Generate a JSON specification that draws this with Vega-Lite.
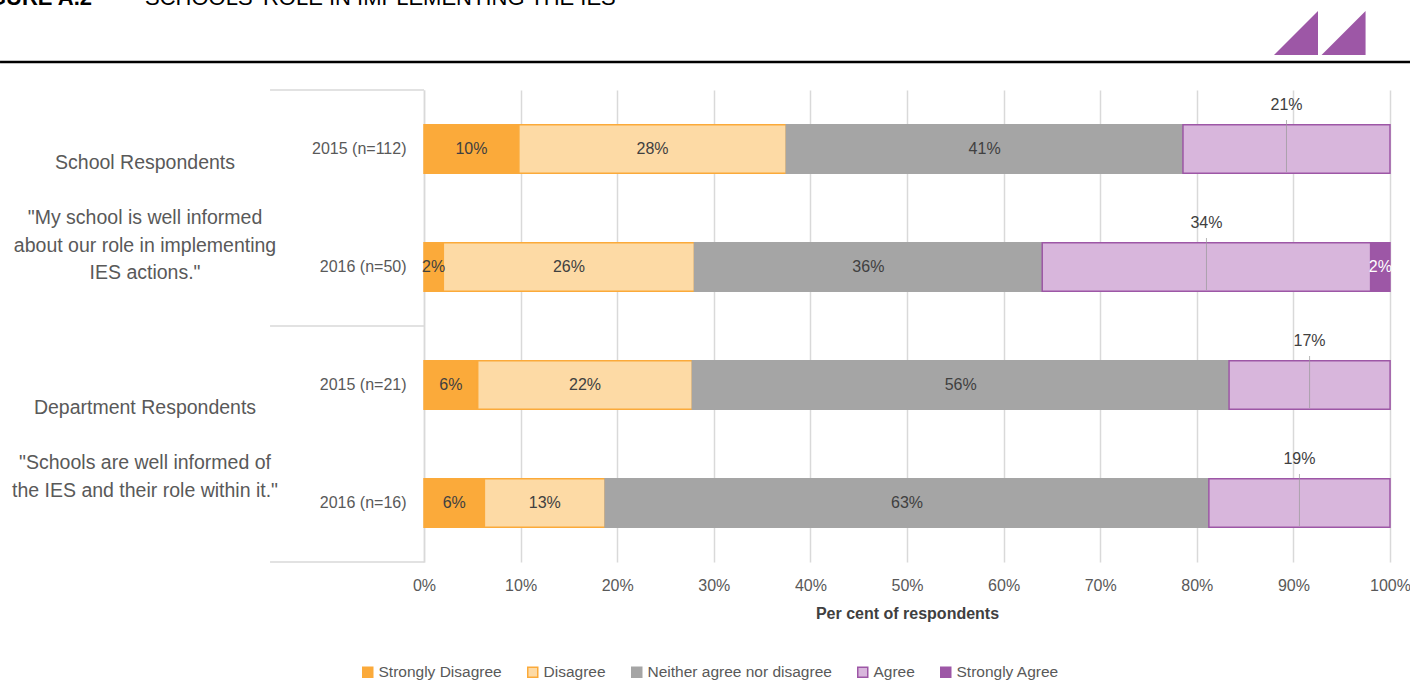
{
  "$schema": "https://vega.github.io/schema/vega-lite/v6.json",
  "autosize": "none",
  "width": 966,
  "height": 472,
  "padding": {"left": 424, "top": 90, "right": 20, "bottom": 119},
  "background": "white",
  "config": {
    "font": "Liberation Sans",
    "view": {"stroke": null}
  },
  "data": {
    "values": [
      {"row": "2015 (n=112)", "grp": "School Respondents", "quote": "\"My school is well informed|about our role in implementing|IES actions.\"", "cat": "Strongly Disagree", "order": 1, "value": 0.0982},
      {"row": "2015 (n=112)", "grp": "School Respondents", "quote": "\"My school is well informed|about our role in implementing|IES actions.\"", "cat": "Disagree", "order": 2, "value": 0.2768},
      {"row": "2015 (n=112)", "grp": "School Respondents", "quote": "\"My school is well informed|about our role in implementing|IES actions.\"", "cat": "Neither agree nor disagree", "order": 3, "value": 0.4107},
      {"row": "2015 (n=112)", "grp": "School Respondents", "quote": "\"My school is well informed|about our role in implementing|IES actions.\"", "cat": "Agree", "order": 4, "value": 0.2143},
      {"row": "2016 (n=50)", "grp": "School Respondents", "quote": "\"My school is well informed|about our role in implementing|IES actions.\"", "cat": "Strongly Disagree", "order": 1, "value": 0.02},
      {"row": "2016 (n=50)", "grp": "School Respondents", "quote": "\"My school is well informed|about our role in implementing|IES actions.\"", "cat": "Disagree", "order": 2, "value": 0.26},
      {"row": "2016 (n=50)", "grp": "School Respondents", "quote": "\"My school is well informed|about our role in implementing|IES actions.\"", "cat": "Neither agree nor disagree", "order": 3, "value": 0.36},
      {"row": "2016 (n=50)", "grp": "School Respondents", "quote": "\"My school is well informed|about our role in implementing|IES actions.\"", "cat": "Agree", "order": 4, "value": 0.34},
      {"row": "2016 (n=50)", "grp": "School Respondents", "quote": "\"My school is well informed|about our role in implementing|IES actions.\"", "cat": "Strongly Agree", "order": 5, "value": 0.02},
      {"row": "2015 (n=21)", "grp": "Department Respondents", "quote": "\"Schools are well informed of|the IES and their role within it.\"", "cat": "Strongly Disagree", "order": 1, "value": 0.0556},
      {"row": "2015 (n=21)", "grp": "Department Respondents", "quote": "\"Schools are well informed of|the IES and their role within it.\"", "cat": "Disagree", "order": 2, "value": 0.2222},
      {"row": "2015 (n=21)", "grp": "Department Respondents", "quote": "\"Schools are well informed of|the IES and their role within it.\"", "cat": "Neither agree nor disagree", "order": 3, "value": 0.5556},
      {"row": "2015 (n=21)", "grp": "Department Respondents", "quote": "\"Schools are well informed of|the IES and their role within it.\"", "cat": "Agree", "order": 4, "value": 0.1667},
      {"row": "2016 (n=16)", "grp": "Department Respondents", "quote": "\"Schools are well informed of|the IES and their role within it.\"", "cat": "Strongly Disagree", "order": 1, "value": 0.0625},
      {"row": "2016 (n=16)", "grp": "Department Respondents", "quote": "\"Schools are well informed of|the IES and their role within it.\"", "cat": "Disagree", "order": 2, "value": 0.125},
      {"row": "2016 (n=16)", "grp": "Department Respondents", "quote": "\"Schools are well informed of|the IES and their role within it.\"", "cat": "Neither agree nor disagree", "order": 3, "value": 0.625},
      {"row": "2016 (n=16)", "grp": "Department Respondents", "quote": "\"Schools are well informed of|the IES and their role within it.\"", "cat": "Agree", "order": 4, "value": 0.1875}
    ]
  },
  "transform": [
    {"stack": "value", "groupby": ["row"], "sort": [{"field": "order", "order": "ascending"}], "as": ["x0", "x1"]},
    {"calculate": "(datum.x0 + datum.x1) / 2", "as": "mid"}
  ],
  "layer": [
    {
      "mark": {"type": "bar", "strokeWidth": 1.5, "height": {"band": 0.41}},
      "encoding": {
        "y": {
          "field": "row",
          "type": "nominal",
          "sort": null,
          "scale": {"paddingInner": 0, "paddingOuter": 0},
          "axis": {
            "orient": "left",
            "title": null,
            "domain": true,
            "domainColor": "#d9d9d9",
            "domainWidth": 1.5,
            "ticks": false,
            "tickSize": 0,
            "labelPadding": 18,
            "labelFontSize": 16,
            "labelColor": "#595959",
            "labelFont": "Liberation Sans"
          }
        },
        "x": {
          "field": "x0",
          "type": "quantitative",
          "scale": {"domain": [0, 1], "nice": false},
          "axis": {
            "orient": "bottom",
            "values": [0, 0.1, 0.2, 0.3, 0.4, 0.5, 0.6, 0.7, 0.8, 0.9, 1],
            "format": ".0%",
            "labelFlush": false,
            "grid": true,
            "gridColor": "#d9d9d9",
            "gridWidth": 1.5,
            "domain": false,
            "ticks": false,
            "tickSize": 0,
            "labelPadding": 15,
            "labelFontSize": 16,
            "labelColor": "#595959",
            "labelFont": "Liberation Sans",
            "title": "Per cent of respondents",
            "titleFontSize": 16,
            "titleFontWeight": "bold",
            "titleColor": "#404040",
            "titleFont": "Liberation Sans",
            "titlePadding": 12
          }
        },
        "x2": {"field": "x1"},
        "color": {
          "field": "cat",
          "type": "nominal",
          "sort": ["Strongly Disagree", "Disagree", "Neither agree nor disagree", "Agree", "Strongly Agree"],
          "scale": {
            "domain": ["Strongly Disagree", "Disagree", "Neither agree nor disagree", "Agree", "Strongly Agree"],
            "range": ["#FBAA3A", "#FDDAA5", "#A5A5A5", "#D8B6DC", "#9D57A6"]
          },
          "legend": {
            "title": null,
            "orient": "none",
            "legendX": -64,
            "legendY": 574,
            "direction": "horizontal",
            "symbolType": "square",
            "symbolSize": 100,
            "symbolStrokeWidth": 1.5,
            "labelFontSize": 15.5,
            "labelColor": "#595959",
            "labelFont": "Liberation Sans",
            "labelLimit": 400,
            "labelOffset": 3,
            "columnPadding": 22
          }
        },
        "stroke": {
          "field": "cat",
          "type": "nominal",
          "sort": ["Strongly Disagree", "Disagree", "Neither agree nor disagree", "Agree", "Strongly Agree"],
          "scale": {
            "domain": ["Strongly Disagree", "Disagree", "Neither agree nor disagree", "Agree", "Strongly Agree"],
            "range": ["#FBAA3A", "#FBAA3A", "#A5A5A5", "#9D57A6", "#9D57A6"]
          },
          "legend": {
            "title": null,
            "orient": "none",
            "legendX": -64,
            "legendY": 574,
            "direction": "horizontal",
            "symbolType": "square",
            "symbolSize": 100,
            "symbolStrokeWidth": 1.5,
            "labelFontSize": 15.5,
            "labelColor": "#595959",
            "labelFont": "Liberation Sans",
            "labelLimit": 400,
            "labelOffset": 3,
            "columnPadding": 22
          }
        }
      }
    },
    {
      "transform": [{"filter": "datum.cat == 'Agree'"}],
      "mark": {"type": "tick", "orient": "vertical", "size": 52, "thickness": 1, "yOffset": -3, "color": "#999999"},
      "encoding": {
        "y": {"field": "row", "type": "nominal", "sort": null},
        "x": {"field": "mid", "type": "quantitative"}
      }
    },
    {
      "transform": [{"filter": "datum.cat != 'Agree'"}],
      "mark": {"type": "text", "fontSize": 16, "baseline": "middle", "align": "center", "font": "Liberation Sans"},
      "encoding": {
        "y": {"field": "row", "type": "nominal", "sort": null},
        "x": {"field": "mid", "type": "quantitative"},
        "text": {"field": "value", "type": "quantitative", "format": ".0%"},
        "color": {
          "condition": {"test": "datum.cat == 'Strongly Agree'", "value": "#ffffff"},
          "value": "#404040"
        }
      }
    },
    {
      "transform": [{"filter": "datum.cat == 'Agree'"}],
      "mark": {"type": "text", "fontSize": 16, "baseline": "middle", "align": "center", "dy": -44, "color": "#404040", "font": "Liberation Sans"},
      "encoding": {
        "y": {"field": "row", "type": "nominal", "sort": null},
        "x": {"field": "mid", "type": "quantitative"},
        "text": {"field": "value", "type": "quantitative", "format": ".0%"}
      }
    },
    {
      "transform": [{"filter": "datum.order == 1 && (datum.row == '2015 (n=112)' || datum.row == '2015 (n=21)')"}],
      "mark": {"type": "rule", "color": "#d9d9d9", "strokeWidth": 1.5},
      "encoding": {
        "y": {"field": "row", "type": "nominal", "sort": null, "bandPosition": 0},
        "x": {"datum": -0.1594, "type": "quantitative"},
        "x2": {"datum": 0}
      }
    },
    {
      "transform": [{"filter": "datum.order == 1 && datum.row == '2016 (n=16)'"}],
      "mark": {"type": "rule", "color": "#d9d9d9", "strokeWidth": 1.5},
      "encoding": {
        "y": {"field": "row", "type": "nominal", "sort": null, "bandPosition": 1},
        "x": {"datum": -0.1594, "type": "quantitative"},
        "x2": {"datum": 0}
      }
    },
    {
      "transform": [{"filter": "datum.order == 1 && datum.row == '2015 (n=112)'"}],
      "mark": {"type": "text", "fontSize": 19.5, "baseline": "middle", "align": "center", "color": "#595959", "font": "Liberation Sans", "dy": -45},
      "encoding": {
        "y": {"field": "row", "type": "nominal", "sort": null, "bandPosition": 1},
        "x": {"datum": -0.2888, "type": "quantitative"},
        "text": {"field": "grp"}
      }
    },
    {
      "transform": [{"filter": "datum.order == 1 && datum.row == '2015 (n=112)'"}],
      "mark": {"type": "text", "fontSize": 19.5, "baseline": "middle", "align": "center", "color": "#595959", "font": "Liberation Sans", "dy": 10, "lineBreak": "|", "lineHeight": 27.5},
      "encoding": {
        "y": {"field": "row", "type": "nominal", "sort": null, "bandPosition": 1},
        "x": {"datum": -0.2888, "type": "quantitative"},
        "text": {"field": "quote"}
      }
    },
    {
      "transform": [{"filter": "datum.order == 1 && datum.row == '2015 (n=21)'"}],
      "mark": {"type": "text", "fontSize": 19.5, "baseline": "middle", "align": "center", "color": "#595959", "font": "Liberation Sans", "dy": -36},
      "encoding": {
        "y": {"field": "row", "type": "nominal", "sort": null, "bandPosition": 1},
        "x": {"datum": -0.2888, "type": "quantitative"},
        "text": {"field": "grp"}
      }
    },
    {
      "transform": [{"filter": "datum.order == 1 && datum.row == '2015 (n=21)'"}],
      "mark": {"type": "text", "fontSize": 19.5, "baseline": "middle", "align": "center", "color": "#595959", "font": "Liberation Sans", "dy": 19, "lineBreak": "|", "lineHeight": 27.5},
      "encoding": {
        "y": {"field": "row", "type": "nominal", "sort": null, "bandPosition": 1},
        "x": {"datum": -0.2888, "type": "quantitative"},
        "text": {"field": "quote"}
      }
    },
    {
      "transform": [{"filter": "datum.order == 1 && datum.row == '2015 (n=112)'"}],
      "mark": {"type": "rule", "color": "#000000", "strokeWidth": 2.5, "yOffset": -28},
      "encoding": {
        "y": {"field": "row", "type": "nominal", "sort": null, "bandPosition": 0},
        "x": {"datum": -0.4389, "type": "quantitative"},
        "x2": {"datum": 1.0207}
      }
    },
    {
      "transform": [{"filter": "datum.order == 1 && datum.row == '2015 (n=112)'"}],
      "mark": {"type": "point", "shape": "M 1 -1 L 1 1 L -1 1 Z", "size": 1936, "filled": true, "color": "#9D57A6", "opacity": 1, "yOffset": -57},
      "encoding": {
        "y": {"field": "row", "type": "nominal", "sort": null, "bandPosition": 0},
        "x": {"datum": 0.9027, "type": "quantitative"}
      }
    },
    {
      "transform": [{"filter": "datum.order == 1 && datum.row == '2015 (n=112)'"}],
      "mark": {"type": "point", "shape": "M 1 -1 L 1 1 L -1 1 Z", "size": 1936, "filled": true, "color": "#9D57A6", "opacity": 1, "yOffset": -57},
      "encoding": {
        "y": {"field": "row", "type": "nominal", "sort": null, "bandPosition": 0},
        "x": {"datum": 0.9519, "type": "quantitative"}
      }
    },
    {
      "transform": [{"filter": "datum.order == 1 && datum.row == '2015 (n=112)'"}],
      "mark": {"type": "text", "text": "FIGURE A.2", "font": "Liberation Sans", "fontSize": 22, "fontWeight": "bold", "color": "#000000", "align": "right", "baseline": "alphabetic", "yOffset": -85},
      "encoding": {
        "y": {"field": "row", "type": "nominal", "sort": null, "bandPosition": 0},
        "x": {"datum": -0.3437, "type": "quantitative"}
      }
    },
    {
      "transform": [{"filter": "datum.order == 1 && datum.row == '2015 (n=112)'"}],
      "mark": {"type": "text", "text": "SCHOOLS' ROLE IN IMPLEMENTING THE IES", "font": "Liberation Sans", "fontSize": 22, "color": "#000000", "align": "left", "baseline": "alphabetic", "yOffset": -85},
      "encoding": {
        "y": {"field": "row", "type": "nominal", "sort": null, "bandPosition": 0},
        "x": {"datum": -0.2888, "type": "quantitative"}
      }
    }
  ]
}
